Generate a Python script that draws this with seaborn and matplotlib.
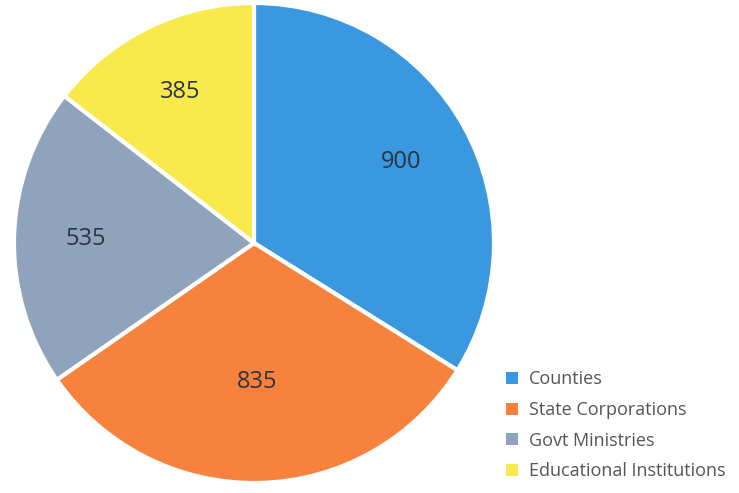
import matplotlib
matplotlib.use("Agg")
import matplotlib.pyplot as plt
from matplotlib.patches import Patch
import numpy as np
import seaborn as sns

# Data
categories = ["Counties", "State Corporations", "Govt Ministries", "Educational Institutions"]
values = [900, 835, 535, 385]
colors = ["#3a98e0", "#f6823e", "#8fa4bc", "#f8e94c"]

sns.set_theme(style="white")
plt.rcParams["font.family"] = ["Open Sans", "DejaVu Sans"]

W, H = 739, 493
fig = plt.figure(figsize=(W / 100, H / 100), dpi=100)
fig.patch.set_facecolor("white")

cx, cy, r = 254, 243, 240
ax = fig.add_axes([(cx - r) / W, (H - cy - r) / H, 2 * r / W, 2 * r / H])
ax.axis("off")

palette = sns.color_palette(colors)
wedges, _ = ax.pie(
    values,
    colors=palette,
    startangle=90,
    counterclock=False,
    radius=1.0,
    wedgeprops=dict(edgecolor="white", linewidth=3, clip_on=False),
    frame=False,
)
ax.set_xlim(-1, 1)
ax.set_ylim(-1, 1)

# Value labels at mid-angle of each wedge
label_dist = [0.70, 0.58, 0.70, 0.70]
for w, v, d in zip(wedges, values, label_dist):
    ang = np.deg2rad((w.theta1 + w.theta2) / 2)
    ax.text(d * np.cos(ang), d * np.sin(ang), f"{v}",
            ha="center", va="center", fontsize=17, color="#2b3440")

handles = [Patch(facecolor=c, edgecolor="none") for c in palette]
fig.legend(
    handles, categories,
    loc="upper left",
    bbox_to_anchor=(490 / W, 1 - 354 / H),
    frameon=False,
    handlelength=0.65, handleheight=0.65,
    handletextpad=0.6,
    labelspacing=0.7,
    labelcolor="#555555",
    prop=dict(size=13),
)

fig.savefig("out.png", dpi=100, facecolor="white")
